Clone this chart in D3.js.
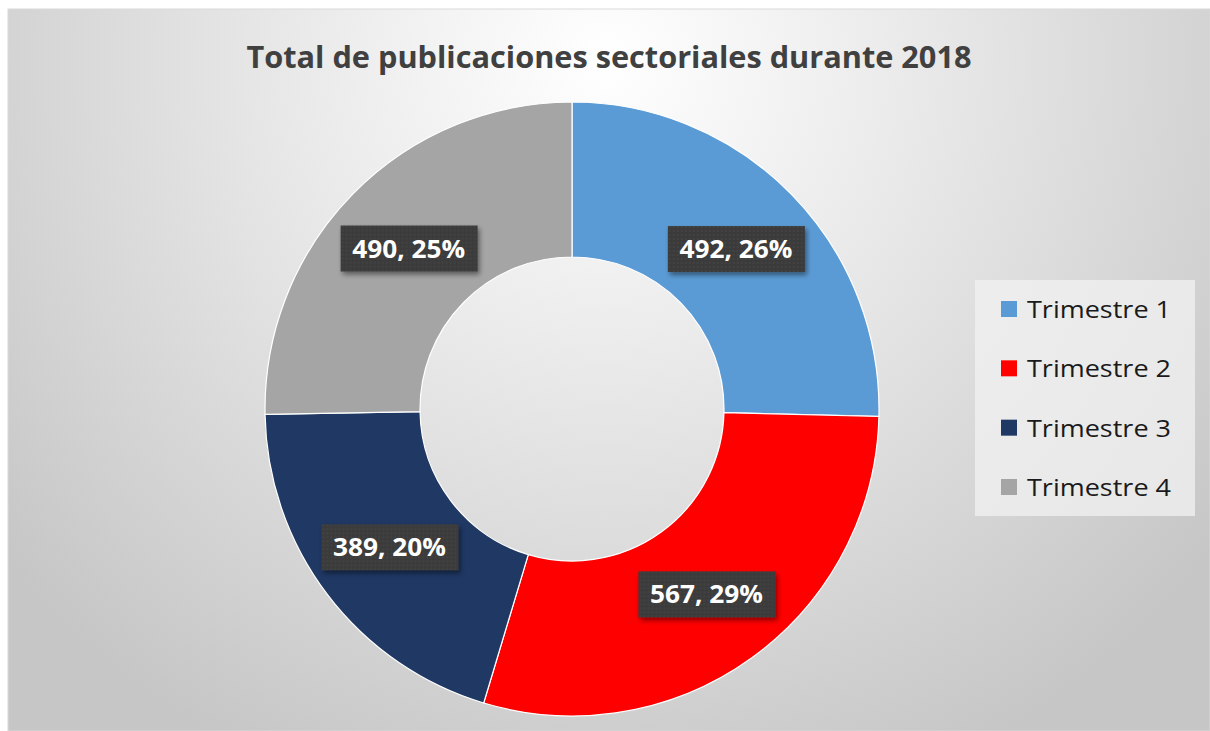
<!DOCTYPE html>
<meta charset="utf-8">
<script src="https://d3js.org/d3.v7.min.js"></script>
<style>
  body { margin: 0; background: #fff; }
</style>
<body>
<div id="chart"></div>
<script>
// chart data
var categories = ["Trimestre 1", "Trimestre 2", "Trimestre 3", "Trimestre 4"]
var values = [492, 567, 389, 490]
var percentLabels = ["26%", "29%", "20%", "25%"]
var colors = ["#5b9bd5", "#ff0000", "#1f3864", "#a5a5a5"]
var title = "Total de publicaciones sectoriales durante 2018"

var W = 1210, H = 731
var svg = d3.select("#chart").append("svg")
  .attr("width", W).attr("height", H)

var defs = svg.append("defs")

// background gradient (white at the top, grey towards edges)
var bg = defs.append("radialGradient")
  .attr("id", "bg")
  .attr("gradientUnits", "userSpaceOnUse")
  .attr("cx", 605).attr("cy", 60).attr("r", 780)
bg.append("stop").attr("offset", "0%").attr("stop-color", "#ffffff")
bg.append("stop").attr("offset", "35%").attr("stop-color", "#ececec")
bg.append("stop").attr("offset", "100%").attr("stop-color", "#c6c6c6")

// dotted pattern for the label boxes
var pat = defs.append("pattern")
  .attr("id", "dots").attr("patternUnits", "userSpaceOnUse")
  .attr("width", 4).attr("height", 4)
pat.append("rect").attr("width", 4).attr("height", 4).attr("fill", "#3b3b3b")
pat.append("circle").attr("cx", 2).attr("cy", 2).attr("r", 0.8).attr("fill", "#4a4a4a")

var shadow = defs.append("filter").attr("id", "shadow")
  .attr("x", "-20%").attr("y", "-20%").attr("width", "150%").attr("height", "160%")
shadow.append("feDropShadow")
  .attr("dx", 2).attr("dy", 3).attr("stdDeviation", 2.5)
  .attr("flood-color", "#000").attr("flood-opacity", 0.45)

svg.append("rect")
  .attr("x", 8).attr("y", 9)
  .attr("width", W - 8).attr("height", H - 9)
  .attr("fill", "url(#bg)")
  .attr("stroke", "#d9d9d9")

svg.append("text")
  .attr("x", 609).attr("y", 68)
  .attr("text-anchor", "middle")
  .attr("font-family", "'Open Sans', sans-serif")
  .attr("font-weight", "bold")
  .attr("font-size", 31)
  .attr("fill", "#404040")
  .attr("textLength", 725)
  .attr("lengthAdjust", "spacingAndGlyphs")
  .text(title)

// donut
var cx = 572, cy = 409
var outerR = 307, innerR = 152

var pie = d3.pie().sort(null).value(function (d) { return d })
var arcs = pie(values)
var arc = d3.arc().innerRadius(innerR).outerRadius(outerR)

var g = svg.append("g").attr("transform", "translate(" + cx + "," + cy + ")")

g.selectAll("path")
  .data(arcs)
  .enter().append("path")
    .attr("d", arc)
    .attr("fill", function (d, i) { return colors[i] })
    .attr("stroke", "#ffffff")
    .attr("stroke-width", 1.2)

// data labels
var labelArc = d3.arc().innerRadius(229).outerRadius(229)
var labels = g.selectAll(".lbl")
  .data(arcs)
  .enter().append("g")
    .attr("class", "lbl")
    .attr("transform", function (d) {
      var c = labelArc.centroid(d)
      return "translate(" + c[0] + "," + c[1] + ")"
    })

labels.append("rect")
  .attr("x", -68).attr("y", -23)
  .attr("width", 137).attr("height", 46)
  .attr("fill", "url(#dots)")
  .attr("filter", "url(#shadow)")

labels.append("text")
  .attr("text-anchor", "middle")
  .attr("dy", 9)
  .attr("font-family", "'Open Sans', sans-serif")
  .attr("font-weight", "bold")
  .attr("font-size", 25)
  .attr("fill", "#ffffff")
  .attr("textLength", 113)
  .attr("lengthAdjust", "spacingAndGlyphs")
  .text(function (d, i) { return values[i] + ", " + percentLabels[i] })

// legend
var legend = svg.append("g").attr("transform", "translate(975,280)")
legend.append("rect")
  .attr("width", 220).attr("height", 236)
  .attr("fill", "#f2f2f2").attr("fill-opacity", 0.75)

var legendY = d3.scalePoint()
  .domain(categories)
  .range([29, 207])

var items = legend.selectAll(".item")
  .data(categories)
  .enter().append("g")
    .attr("class", "item")
    .attr("transform", function (d) { return "translate(0," + legendY(d) + ")" })

items.append("rect")
  .attr("x", 26).attr("y", -8)
  .attr("width", 16).attr("height", 16)
  .attr("fill", function (d, i) { return colors[i] })

items.append("text")
  .attr("x", 52).attr("dy", 9)
  .attr("font-family", "'Open Sans', sans-serif")
  .attr("font-size", 23)
  .attr("fill", "#1a1a1a")
  .attr("textLength", 144)
  .attr("lengthAdjust", "spacingAndGlyphs")
  .text(function (d) { return d })
</script>
</body>
